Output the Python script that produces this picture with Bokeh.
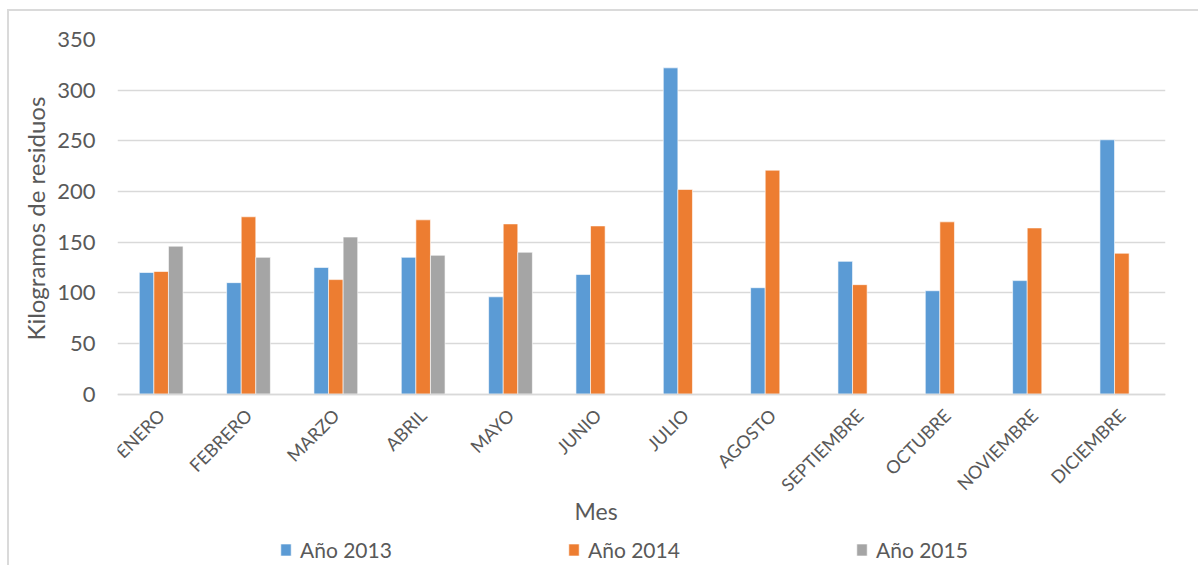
import math
from bokeh.plotting import figure
from bokeh.models import (ColumnDataSource, FactorRange, Range1d, Legend, LegendItem,
                          Title, Label, FixedTicker)
from bokeh.transform import dodge
from bokeh.embed import file_html
from bokeh.resources import INLINE

# ---- data ----
months = ["ENERO", "FEBRERO", "MARZO", "ABRIL", "MAYO", "JUNIO", "JULIO",
          "AGOSTO", "SEPTIEMBRE", "OCTUBRE", "NOVIEMBRE", "DICIEMBRE"]
y2013 = [120, 110, 125, 135, 96, 118, 322, 105, 131, 102, 112, 251]
y2014 = [121, 175, 113, 172, 168, 166, 202, 221, 108, 170, 164, 139]
y2015 = [146, 135, 155, 137, 140, None, None, None, None, None, None, None]
series_names = ["Año 2013", "Año 2014", "Año 2015"]
y_ticks = [0, 50, 100, 150, 200, 250, 300, 350]

colors = ["#5B9BD5", "#ED7D31", "#A5A5A5"]
FONT = "Lato"
TXT = "#595959"

# the frame runs down to the bottom of the canvas so that the x title and
# legend (drawn inside it, below the zero line) are not clipped
p = figure(x_range=FactorRange(*months, range_padding=0), y_range=Range1d(-169.2, 350),
           width=1198, height=565, output_backend="svg", toolbar_location=None,
           min_border_left=117, min_border_right=33, min_border_top=39,
           min_border_bottom=0)
p.outline_line_color = None
p.background_fill_color = "white"
p.border_fill_alpha = 0
# light chart-area border (left and top edges)
p.styles = {
    "background-color": "white",
    "background-image": "linear-gradient(#DADADA, #DADADA), linear-gradient(#DADADA, #DADADA)",
    "background-size": "2px 100%, 100% 2px",
    "background-position": "7px 9px, 7px 9px",
    "background-repeat": "no-repeat",
}

renderers = []
for i, (name, vals) in enumerate(zip(series_names, [y2013, y2014, y2015])):
    xs = [m for m, v in zip(months, vals) if v is not None]
    vs = [v for v in vals if v is not None]
    src = ColumnDataSource(dict(x=xs, top=vs))
    r = p.vbar(x=dodge("x", (i - 1) * 0.167, range=p.x_range), top="top", bottom=0,
               width=0.167, source=src, fill_color=colors[i], line_color="white",
               line_alpha=0.6, line_width=1)
    renderers.append(r)

# grid
p.xgrid.grid_line_color = None
p.ygrid.grid_line_color = "#D9D9D9"
p.ygrid.grid_line_width = 1.3
p.yaxis.ticker = FixedTicker(ticks=y_ticks)

# y axis
p.yaxis.axis_line_color = None
p.yaxis.major_tick_line_color = None
p.yaxis.minor_tick_line_color = None
p.yaxis.major_tick_out = 0
p.yaxis.major_label_standoff = 22
p.yaxis.major_label_text_font = FONT
p.yaxis.major_label_text_font_size = "22px"
p.yaxis.major_label_text_color = TXT

# y axis title as a side title, positioned along the 0..350 span
p.add_layout(Title(text="Kilogramos de residuos", align="left", offset=225,
                   text_font=FONT, text_font_size="24px", text_font_style="normal",
                   text_color=TXT, standoff=10), "left")

# x axis drawn at y = 0
xax = p.xaxis[0]
xax.fixed_location = 0
xax.axis_line_color = "#D9D9D9"
xax.axis_line_width = 1.3
xax.major_tick_line_color = None
xax.minor_tick_line_color = None
xax.major_tick_out = 0
xax.major_label_standoff = 18
xax.major_label_orientation = math.pi / 4
xax.major_label_text_font = FONT
xax.major_label_text_font_size = "18px"
xax.major_label_text_color = TXT

# x axis title
p.add_layout(Label(x=5.48, y=-115, text="Mes", text_font=FONT,
                   text_font_size="23px", text_color=TXT, text_align="center",
                   text_baseline="middle"))

legend = Legend(items=[LegendItem(label=n, renderers=[r]) for n, r in zip(series_names, renderers)],
                location=(162, 3), orientation="horizontal", padding=0, margin=0,
                spacing=0, glyph_width=13, glyph_height=15, label_standoff=8,
                label_width=267, border_line_color=None, background_fill_alpha=0,
                label_text_font=FONT, label_text_font_size="21px", label_text_color=TXT)
p.add_layout(legend, "center")

open("out.html", "w").write(file_html(p, INLINE))
